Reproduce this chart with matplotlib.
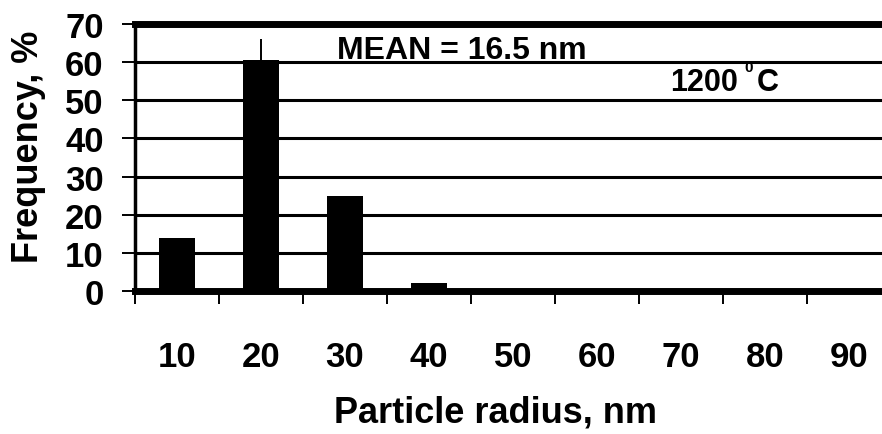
import numpy as np
import matplotlib
matplotlib.use('Agg')
import matplotlib.pyplot as plt

plt.rcParams['font.family'] = ['Liberation Sans', 'DejaVu Sans']
plt.rcParams['font.weight'] = 'bold'

# data
radius = ['10', '20', '30', '40', '50', '60', '70', '80', '90']
freq = [13.8, 60.6, 25.0, 2.2, 0, 0, 0, 0, 0]
err_up = [0, 5.4, 0, 0, 0, 0, 0, 0, 0]

fig = plt.figure(figsize=(8.82, 4.35), dpi=100)
ax = fig.add_axes([135/882, 1 - 292/435, 756/882, 267/435])

x = np.arange(len(radius))
ax.bar(x, freq, width=0.42, color='black', zorder=3)
ax.errorbar(x, freq, yerr=[np.zeros(len(err_up)), err_up], fmt='none',
            ecolor='black', elinewidth=1.4, capsize=0, zorder=4)

ax.set_xlim(-0.5, len(radius) - 0.5)
ax.set_ylim(0, 70)
ax.set_yticks(np.arange(0, 71, 10))
ax.yaxis.grid(True, color='black', linewidth=2.2, zorder=1)
ax.set_axisbelow(True)

ax.set_xticks(x)
ax.set_xticklabels(radius)
ax.set_xticks(np.arange(-0.5, len(radius), 1), minor=True)
ax.tick_params(axis='x', which='major', length=0, pad=35, labelsize=25)
ax.tick_params(axis='x', which='minor', length=9, width=1.4, direction='out')
ax.tick_params(axis='y', length=9.5, width=1.4, direction='out', pad=13, labelsize=25)
for lbl in ax.get_xticklabels() + ax.get_yticklabels():
    lbl.set_fontweight('bold')

ax.spines['right'].set_visible(False)
ax.spines['top'].set_linewidth(5)
ax.spines['bottom'].set_linewidth(5)
ax.spines['left'].set_linewidth(2.5)

ax.set_xlabel('Particle radius, nm', fontsize=26, fontweight='bold')
ax.xaxis.set_label_coords(0.4775, -0.386)
ax.set_ylabel('Frequency, %', fontsize=26, fontweight='bold')
ax.yaxis.set_label_coords(-0.1177, 0.543)

ax.text(1.9, 61.1, 'MEAN = 16.5 nm', fontsize=23, fontweight='bold', va='baseline', ha='left')
# "1200 °C" with a small superscript 0
ax.text(5.87, 52.7, '1200', fontsize=22, fontweight='bold', va='baseline', ha='left')
ax.text(6.76, 57.7, '0', fontsize=11, fontweight='bold', va='baseline', ha='left')
ax.text(6.9, 52.7, 'C', fontsize=22, fontweight='bold', va='baseline', ha='left')

fig.savefig('out.png', dpi=100)
